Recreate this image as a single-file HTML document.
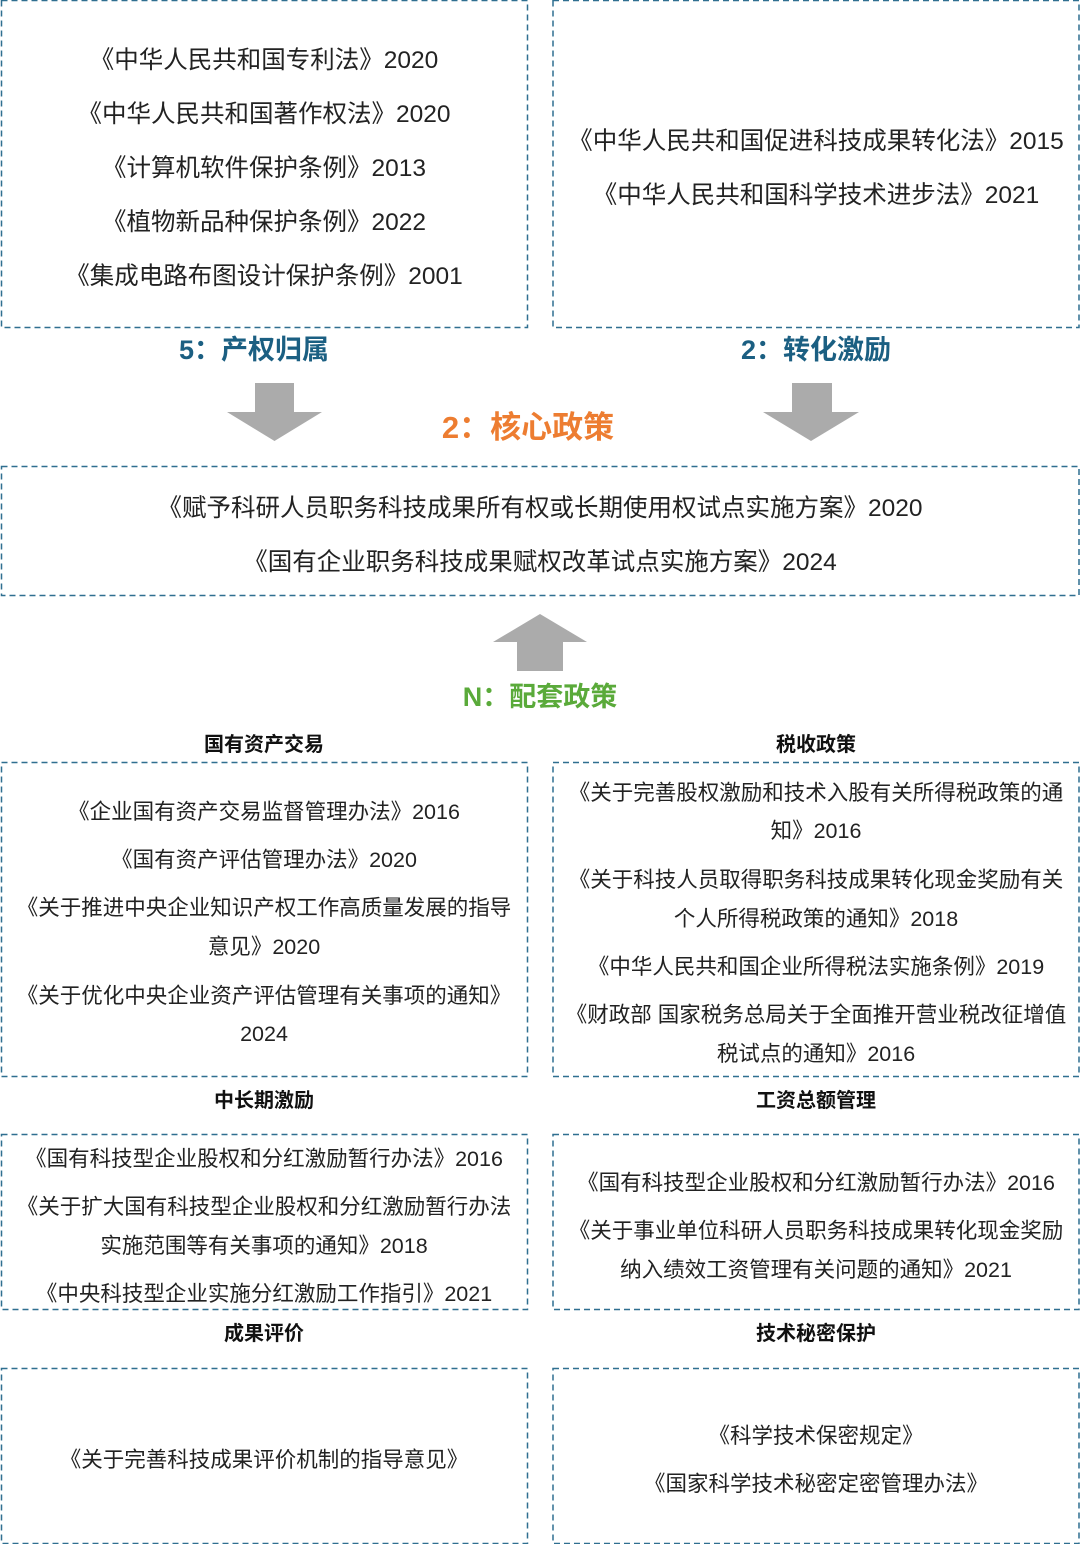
<!DOCTYPE html>
<html><head><meta charset="utf-8"><style>
body{margin:0;width:1080px;height:1544px;background:#fff;position:relative;overflow:hidden;font-family:"Liberation Sans","Noto Sans CJK SC",sans-serif;color:#222}
.t{position:absolute;text-align:center;white-space:nowrap;line-height:30px}
.L{left:0;width:528px}.R{left:552px;width:528px}.F{left:0;width:1080px}
.s24{font-size:24.5px}.s22{font-size:21.5px}
.h{position:absolute;font-weight:bold;font-size:20px;text-align:center;line-height:28px;color:#111}
.big{position:absolute;font-weight:bold;text-align:center;line-height:40px}
</style></head><body>
<svg style="position:absolute;left:0;top:0" width="1080" height="1544">
<g fill="none" stroke="#2f6f90" stroke-width="1.5" stroke-dasharray="6,4">
<rect x="1.5" y="0.5" width="526" height="327"/>
<rect x="553" y="0.5" width="526" height="327"/>
<rect x="1.5" y="466.5" width="1077.5" height="129"/>
<rect x="1.5" y="762.5" width="526" height="314"/>
<rect x="553" y="762.5" width="526" height="314"/>
<rect x="1.5" y="1134.5" width="526" height="175"/>
<rect x="553" y="1134.5" width="526" height="175"/>
<rect x="1.5" y="1368.5" width="526" height="175"/>
<rect x="553" y="1368.5" width="526" height="175"/>
</g>
<polygon points="255,383 294,383 294,412 322,412 274.5,441 227,412 255,412" fill="#ababab"/>
<polygon points="792,383 832,383 832,412 859,412 811,441 763,412 792,412" fill="#ababab"/>
<polygon points="540,614 587,642 563,642 563,671 517,671 517,642 493,642" fill="#ababab"/>
</svg>

<div class="t L s24" style="top:46px">《中华人民共和国专利法》2020</div>
<div class="t L s24" style="top:100px">《中华人民共和国著作权法》2020</div>
<div class="t L s24" style="top:154px">《计算机软件保护条例》2013</div>
<div class="t L s24" style="top:208px">《植物新品种保护条例》2022</div>
<div class="t L s24" style="top:262px">《集成电路布图设计保护条例》2001</div>
<div class="t R s24" style="top:127px">《中华人民共和国促进科技成果转化法》2015</div>
<div class="t R s24" style="top:181px">《中华人民共和国科学技术进步法》2021</div>

<div class="big" style="left:0;width:508px;top:330px;font-size:27px;color:#1b5f82">5：产权归属</div>
<div class="big" style="left:552px;width:528px;top:330px;font-size:27px;color:#1b5f82">2：转化激励</div>
<div class="big" style="left:0;width:1056px;top:408px;font-size:31px;color:#ed7d31">2：核心政策</div>
<div class="t F s24" style="top:494px">《赋予科研人员职务科技成果所有权或长期使用权试点实施方案》2020</div>
<div class="t F s24" style="top:548px">《国有企业职务科技成果赋权改革试点实施方案》2024</div>
<div class="big" style="left:0;width:1080px;top:677px;font-size:27px;color:#5aaa3a">N：配套政策</div>

<div class="h L" style="top:731px">国有资产交易</div>
<div class="h R" style="top:731px">税收政策</div>
<div class="t L s22" style="top:797px">《企业国有资产交易监督管理办法》2016</div>
<div class="t L s22" style="top:845px">《国有资产评估管理办法》2020</div>
<div class="t L s22" style="top:893px">《关于推进中央企业知识产权工作高质量发展的指导</div>
<div class="t L s22" style="top:932px">意见》2020</div>
<div class="t L s22" style="top:981px">《关于优化中央企业资产评估管理有关事项的通知》</div>
<div class="t L s22" style="top:1019px">2024</div>
<div class="t R s22" style="top:778px">《关于完善股权激励和技术入股有关所得税政策的通</div>
<div class="t R s22" style="top:816px">知》2016</div>
<div class="t R s22" style="top:865px">《关于科技人员取得职务科技成果转化现金奖励有关</div>
<div class="t R s22" style="top:904px">个人所得税政策的通知》2018</div>
<div class="t R s22" style="top:952px">《中华人民共和国企业所得税法实施条例》2019</div>
<div class="t R s22" style="top:1000px">《财政部 国家税务总局关于全面推开营业税改征增值</div>
<div class="t R s22" style="top:1039px">税试点的通知》2016</div>

<div class="h L" style="top:1087px">中长期激励</div>
<div class="h R" style="top:1087px">工资总额管理</div>
<div class="t L s22" style="top:1144px">《国有科技型企业股权和分红激励暂行办法》2016</div>
<div class="t L s22" style="top:1192px">《关于扩大国有科技型企业股权和分红激励暂行办法</div>
<div class="t L s22" style="top:1231px">实施范围等有关事项的通知》2018</div>
<div class="t L s22" style="top:1279px">《中央科技型企业实施分红激励工作指引》2021</div>
<div class="t R s22" style="top:1168px">《国有科技型企业股权和分红激励暂行办法》2016</div>
<div class="t R s22" style="top:1216px">《关于事业单位科研人员职务科技成果转化现金奖励</div>
<div class="t R s22" style="top:1255px">纳入绩效工资管理有关问题的通知》2021</div>

<div class="h L" style="top:1320px">成果评价</div>
<div class="h R" style="top:1320px">技术秘密保护</div>
<div class="t L s22" style="top:1445px">《关于完善科技成果评价机制的指导意见》</div>
<div class="t R s22" style="top:1421px">《科学技术保密规定》</div>
<div class="t R s22" style="top:1469px">《国家科学技术秘密定密管理办法》</div>
</body></html>
